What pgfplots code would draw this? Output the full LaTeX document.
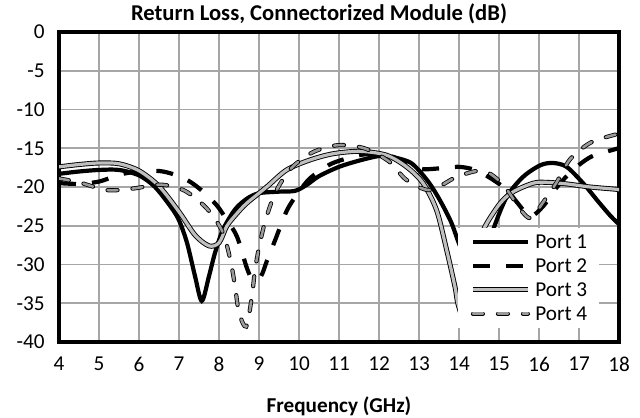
\documentclass[border=0pt]{standalone}
\usepackage{fontspec}
\setmainfont{Carlito}
\usepackage{pgfplots}
\pgfplotsset{compat=1.18}

\begin{document}
\begin{tikzpicture}[font=\fontsize{10.6pt}{12pt}\selectfont]
\useasboundingbox (-29.5pt,-37.5pt) rectangle (290.5pt,171pt);
\begin{axis}[
  name=ax,
  scale only axis, width=280pt, height=155pt,
  xmin=4, xmax=18, ymin=-40, ymax=0,
  xtick={4,...,18}, ytick={-40,-35,...,0},
  grid=major, grid style={line width=0.8pt, black!35},
  axis line style={line width=1.8pt},
  major tick length=0pt,
  /pgf/number format/assume math mode=true,
  tick label style={font=\fontsize{10.6pt}{12pt}\selectfont},
  xticklabel style={anchor=center, inner sep=0pt, yshift=-11pt},
  yticklabel style={anchor=east, inner sep=0pt, xshift=-7pt},
  xlabel={Frequency (GHz)},
  xlabel style={font=\fontsize{10.6pt}{12pt}\selectfont\bfseries, at={(0.5,0)}, anchor=center, yshift=-32pt},
  legend style={at={(0.7125,0.37)}, anchor=north west, draw=none, fill=white,
    font=\fontsize{10.6pt}{12pt}\selectfont,
    inner xsep=6pt, inner ysep=1pt, row sep=0pt, column sep=2.5pt,
    nodes={inner xsep=0pt, inner ysep=2.6pt, text height=6.8pt, text depth=0pt}},
  legend cell align=left,
  legend image code/.code={\draw[#1] (0pt,0pt) -- (27.5pt,0pt);},
]
% Port 1
\addplot[black, line width=2.1pt, smooth] coordinates {
(4.0,-18.3) (4.5,-18.0) (5.0,-17.8) (5.5,-17.8) (6.0,-18.5) (6.4,-20.0)
(6.8,-22.6) (7.0,-24.3) (7.2,-27.2) (7.4,-31.5) (7.57,-34.7) (7.75,-31.5)
(7.9,-28.5) (8.1,-25.5) (8.4,-22.9) (8.7,-21.5) (9.0,-20.8) (9.5,-20.6)
(9.9,-20.5) (10.2,-19.7) (10.5,-18.6) (11.0,-17.4) (11.5,-16.6) (12.0,-16.0)
(12.3,-16.1) (12.8,-16.9) (13.2,-19.1) (13.5,-21.5) (13.8,-24.5) (14.0,-27.3)
(14.3,-31.0) (14.5,-32.0) (14.7,-29.0) (14.85,-25.6) (15.19,-21.3) (15.6,-18.7)
(16.03,-17.2) (16.35,-16.9) (16.69,-17.4) (17.1,-19.5) (17.5,-22.0) (17.8,-23.8)
(18.0,-24.8)
};
% Port 2
\addplot[black, line width=2.1pt, dash pattern=on 8.5pt off 8pt, smooth] coordinates {
(4.0,-19.5) (4.5,-19.6) (5.0,-19.3) (5.4,-18.6) (5.7,-18.2) (6.2,-17.9)
(6.6,-18.0) (7.0,-18.6) (7.3,-19.4) (7.6,-20.6) (7.95,-22.4) (8.2,-24.3)
(8.45,-26.4) (8.7,-30.5) (8.85,-32.0) (9.05,-31.5) (9.2,-29.5) (9.4,-26.9)
(9.7,-23.0) (10.0,-20.6) (10.25,-19.0) (10.5,-18.0) (10.85,-16.9) (11.5,-15.9)
(12.0,-15.7) (12.4,-16.2) (12.8,-17.2) (13.1,-17.7) (13.5,-17.6) (14.0,-17.4)
(14.4,-17.8) (14.8,-18.9) (15.2,-20.4) (15.5,-22.3) (15.78,-23.8) (16.1,-22.5)
(16.45,-20.0) (16.85,-17.8) (17.3,-16.1) (17.85,-15.2) (18.0,-15.0)
};
% Port 3
\addplot[black, line width=0.45pt, double=black!25, double distance=1.6pt, smooth] coordinates {
(4.0,-17.4) (4.5,-17.1) (5.0,-16.9) (5.5,-17.0) (6.0,-17.9) (6.5,-19.9)
(7.0,-23.2) (7.4,-26.2) (7.75,-27.6) (8.0,-27.2) (8.2,-25.0) (8.45,-23.4)
(8.69,-22.1) (9.19,-20.0) (9.69,-17.8) (10.28,-16.5) (10.86,-15.7) (11.53,-15.4)
(12.19,-15.9) (12.69,-17.4) (13.1,-19.5) (13.44,-23.0) (13.69,-28.1) (13.9,-32.9)
(13.97,-35.0) (14.1,-36.5) (14.3,-33.0) (14.5,-27.5) (14.65,-25.1) (15.03,-22.1)
(15.36,-20.6) (15.86,-19.5) (16.19,-19.4) (16.69,-19.6) (17.28,-20.0) (17.94,-20.3)
(18.0,-20.4)
};
% Port 4
\addplot[black, line width=0.4pt, double=black!40, double distance=1.3pt, dash pattern=on 5pt off 7.5pt, line cap=round, smooth] coordinates {
(4.0,-18.9) (4.5,-19.4) (5.2,-20.4) (5.85,-20.2) (6.55,-19.7) (7.15,-20.5)
(7.7,-22.8) (8.08,-25.7) (8.28,-29.3) (8.4,-32.8) (8.5,-36.2) (8.68,-38.0)
(8.82,-34.2) (8.9,-30.7) (9.02,-27.3) (9.19,-23.8) (9.44,-20.4) (9.82,-17.5)
(10.35,-15.5) (10.98,-14.6) (11.63,-15.0) (12.25,-16.7) (12.69,-19.1) (13.28,-20.4)
(13.94,-18.7) (14.6,-17.9) (15.1,-19.7) (15.55,-23.0) (15.8,-24.0) (16.1,-22.0)
(16.44,-19.4) (16.78,-16.4) (17.28,-14.3) (17.86,-13.3) (18.0,-13.2)
};
\legend{Port 1, Port 2, Port 3, Port 4}
\end{axis}
\node[font=\fontsize{11.3pt}{13pt}\selectfont\bfseries] at (130pt,164pt) {Return Loss, Connectorized Module (dB)};
\end{tikzpicture}
\end{document}
